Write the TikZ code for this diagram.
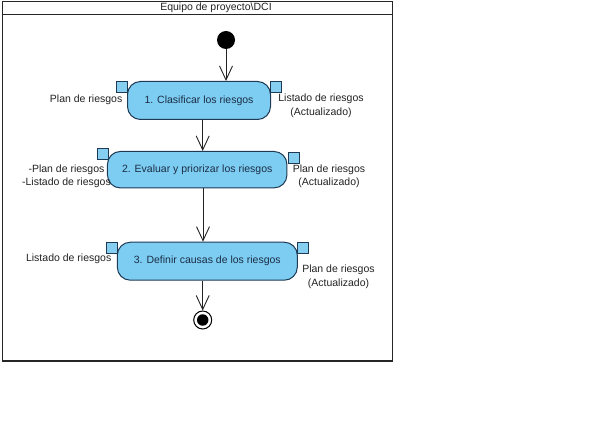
\documentclass[tikz,border=0pt]{standalone}
\usepackage{fontspec}
\setmainfont{Liberation Sans}
\usetikzlibrary{arrows.meta}
\definecolor{actfill}{HTML}{7DCDF2}
\definecolor{actdraw}{HTML}{1F3A55}
\definecolor{acttext}{HTML}{1B2D45}
\definecolor{pinfill}{HTML}{86CFF0}
\definecolor{labtext}{HTML}{222222}
\tikzset{
  activity/.style={draw=actdraw, fill=actfill, line width=1pt, rounded corners=13pt,
    inner sep=0pt, text=acttext, font=\fontsize{10.5}{12}\selectfont},
  pin/.style={draw=actdraw, fill=pinfill, line width=0.8pt, minimum size=11pt,
    inner sep=0pt, anchor=north west},
  lab/.style={text=labtext, inner sep=0pt, align=center, font=\fontsize{10.5}{13.5}\selectfont},
  flow/.style={draw=labtext, line width=0.9pt, -{Straight Barb[length=14pt,width=13pt,line width=0.9pt]}},
  frame/.style={draw=black!85, line width=1.8pt},
}
\begin{document}
\begin{tikzpicture}[x=1pt,y=-1pt]
\useasboundingbox (0,0) rectangle (601,438);
% frame
\draw[frame] (2.5,1.5) rectangle (392.5,361);
\draw[frame] (2.5,14.5) -- (392.5,14.5);
\node[lab] (title) at (216,8) {Equipo de proyecto\textbackslash DCI};
% initial and final
\node[circle, fill=black, minimum size=18pt, inner sep=0pt] (init) at (226,40) {};
\node[circle, draw=black, line width=1pt, fill=white, minimum size=18pt, inner sep=0pt] (final) at (202.7,320) {};
\node[circle, fill=black, minimum size=11.5pt, inner sep=0pt] (finaldot) at (202.7,320) {};
% activities
\node[activity, minimum width=143pt, minimum height=38pt] (a1) at (199,100.5) {1. Clasificar los riesgos};
\node[activity, minimum width=179.5pt, minimum height=36.5pt] (a2) at (197.2,169.7) {2. Evaluar y priorizar los riesgos};
\node[activity, minimum width=180pt, minimum height=38pt] (a3) at (207.3,261.2) {3. Definir causas de los riesgos};
% pins
\node[pin] (p1l) at (116,80.7) {};
\node[pin] (p1r) at (269.5,81) {};
\node[pin] (p2l) at (96.7,148) {};
\node[pin] (p2r) at (287.7,151.7) {};
\node[pin] (p3l) at (106,241.7) {};
\node[pin] (p3r) at (297,241.7) {};
% labels
\node[lab, anchor=east] (l1l) at (122.5,99.5) {Plan de riesgos};
\node[lab] (l1r) at (321,106) {Listado de riesgos\\(Actualizado)};
\node[lab] (l2l) at (66.5,176.5) {-Plan de riesgos\\-Listado de riesgos};
\node[lab] (l2r) at (329,176.5) {Plan de riesgos\\(Actualizado)};
\node[lab, anchor=east] (l3l) at (111.5,259) {Listado de riesgos};
\node[lab] (l3r) at (338.5,277) {Plan de riesgos\\(Actualizado)};
% flows
\draw[flow] (init.south) -- (init.south |- a1.north);
\draw[flow] ([xshift=3.7pt]a1.south) -- ([xshift=3.7pt]a1.south |- a2.north);
\draw[flow] ([xshift=5.8pt]a2.south) -- ([xshift=5.8pt]a2.south |- a3.north);
\draw[flow] (final |- a3.south) -- (final.north);
\end{tikzpicture}
\end{document}
